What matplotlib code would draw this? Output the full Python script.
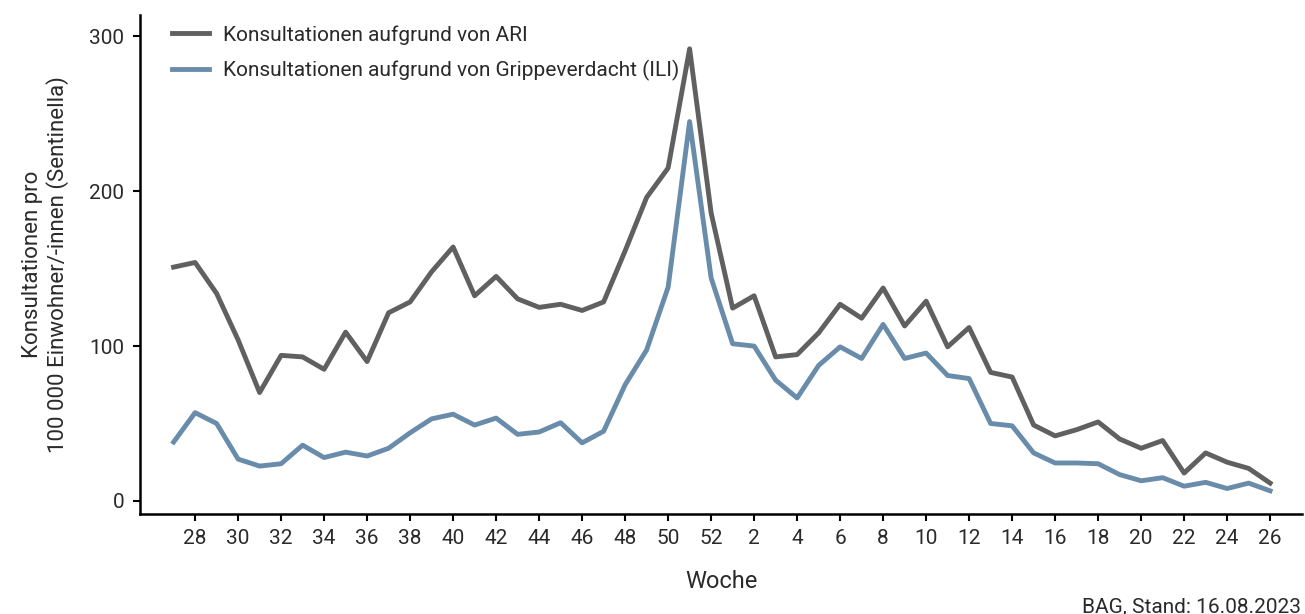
import matplotlib
matplotlib.use('Agg')
import numpy as np
from matplotlib import pyplot as plt

# Kalenderwochen 27/2022 bis 26/2023
weeks = list(range(27, 53)) + list(range(1, 27))

ari = [151, 154, 134, 104, 70, 94, 93, 85, 109, 90,
       121.5, 128.5, 148, 164, 132.5, 145, 130.5, 125, 127, 123,
       128.5, 161.5, 196, 215, 292, 186,
       124.5, 132.5, 93, 94.5, 108.5, 127, 118, 137.5, 113, 129,
       99.5, 112, 83, 80, 49, 42, 46, 51, 40, 34,
       39, 18, 31, 25, 21, 11.5]

ili = [38, 57, 50, 27, 22.5, 24, 36, 28, 31.5, 29,
       34, 44, 53, 56, 49, 53.5, 43, 44.5, 50.5, 37.5,
       45, 75, 97.5, 138, 245, 144,
       101.5, 100, 78, 66.5, 87.5, 99.5, 92, 114, 92, 95.5,
       81, 79, 50, 48.5, 31, 24.5, 24.5, 24, 17, 13,
       15, 9.5, 12, 8, 11.5, 6.5]

labels = ['Konsultationen aufgrund von ARI',
          'Konsultationen aufgrund von Grippeverdacht (ILI)']
colors = ['#606060', '#6a8cab']
text_col = '#2a2a2a'

plt.rcParams['font.family'] = ['Roboto', 'DejaVu Sans']

fig = plt.figure(figsize=(13.05, 6.14), dpi=100)
ax = fig.add_axes([0.107, 0.163, 0.891, 0.813])

x = np.arange(len(weeks))
ax.plot(x, ari, color=colors[0], lw=3.5, label=labels[0])
ax.plot(x, ili, color=colors[1], lw=3.5, label=labels[1])

ax.set_xlim(-1.58, 52.5)
ax.set_ylim(-8.4, 314)

tick_pos = x[1::2]
ax.set_xticks(tick_pos)
ax.set_xticklabels([str(weeks[i]) for i in tick_pos])
ax.set_yticks([0, 100, 200, 300])

for s in ['top', 'right']:
    ax.spines[s].set_visible(False)
for s in ['left', 'bottom']:
    ax.spines[s].set_linewidth(1.8)
    ax.spines[s].set_color('black')

ax.tick_params(axis='both', length=5, width=1.5, labelsize=15, labelcolor=text_col,
               color='black', pad=6)

ax.set_xlabel('Woche', fontsize=17, color=text_col, labelpad=16)
ax.set_ylabel('Konsultationen pro\n100 000 Einwohner/-innen (Sentinella)',
              fontsize=16, color=text_col, labelpad=15, linespacing=1.15)

leg = ax.legend(loc='upper left', bbox_to_anchor=(0.021, 0.996), borderaxespad=0,
                frameon=False, fontsize=15, handlelength=1.75, handletextpad=0.7,
                labelspacing=0.75)
for t in leg.get_texts():
    t.set_color(text_col)

fig.text(0.997, -0.004, 'BAG, Stand: 16.08.2023', ha='right', va='bottom',
         fontsize=15, color=text_col)

fig.savefig('out.png', dpi=100)
